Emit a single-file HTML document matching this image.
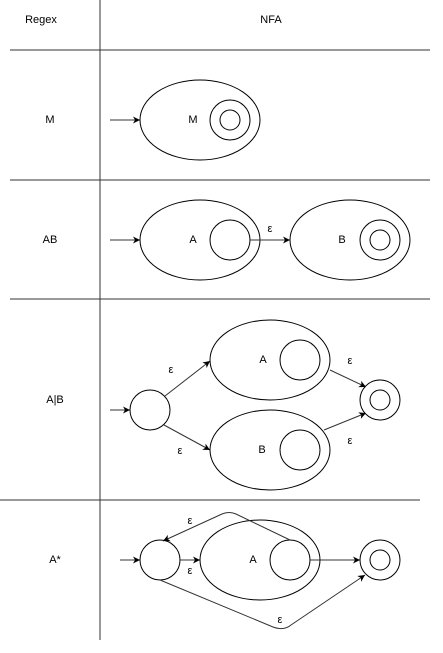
<!DOCTYPE html>
<html><head><meta charset="utf-8"><style>
html,body{margin:0;padding:0;background:#fff}
svg{display:block}
text{font-family:"Liberation Sans",sans-serif;font-size:11px;fill:#000;text-anchor:middle;dominant-baseline:central}
.l{stroke:#333;stroke-width:1;fill:none}
.s{stroke:#000;stroke-width:1;fill:#fff}
</style></head><body>
<svg width="443" height="653" viewBox="0 0 443 653">
<defs><marker id="a" markerWidth="8" markerHeight="8" refX="7" refY="4" orient="auto" markerUnits="userSpaceOnUse"><path d="M0,0.5 L7,4 L0,7.5 L2,4Z" fill="#000"/></marker></defs>
<g>
<line class="l" x1="100" y1="0" x2="100" y2="640"/>
<line class="l" x1="10" y1="50" x2="430" y2="50"/>
<line class="l" x1="10" y1="180" x2="430" y2="180"/>
<line class="l" x1="10" y1="299" x2="430" y2="299"/>
<line class="l" x1="0" y1="500" x2="420" y2="500"/>
</g>
<text x="41" y="20">Regex</text>
<text x="271" y="20">NFA</text>
<text x="50" y="120">M</text>
<text x="50" y="240">AB</text>
<text x="55" y="400">A|B</text>
<text x="55" y="560">A*</text>

<g>
<line class="l" x1="110" y1="120" x2="140" y2="120" marker-end="url(#a)"/>
<ellipse class="s" cx="200" cy="120" rx="60" ry="40"/>
<circle class="s" cx="230" cy="120" r="20"/><circle class="s" cx="230" cy="120" r="10"/>
<text x="193" y="120">M</text>
</g>
<g>
<line class="l" x1="110" y1="240" x2="140" y2="240" marker-end="url(#a)"/>
<ellipse class="s" cx="200" cy="240" rx="60" ry="40"/>
<circle class="s" cx="230" cy="240" r="20"/>
<text x="193" y="240">A</text>
<line class="l" x1="250" y1="240" x2="290" y2="240" marker-end="url(#a)"/>
<text x="270" y="229">ε</text>
<ellipse class="s" cx="350" cy="240" rx="60" ry="40"/>
<circle class="s" cx="380" cy="240" r="20"/><circle class="s" cx="380" cy="240" r="10"/>
<text x="342" y="240">B</text>
</g>
<g>
<line class="l" x1="110" y1="410" x2="130" y2="410" marker-end="url(#a)"/>
<circle class="s" cx="150" cy="410" r="20"/>
<line class="l" x1="165" y1="396" x2="210" y2="361" marker-end="url(#a)"/>
<line class="l" x1="164" y1="425" x2="210" y2="450" marker-end="url(#a)"/>
<text x="171" y="370">ε</text><text x="180" y="451">ε</text>
<ellipse class="s" cx="270" cy="360" rx="60" ry="40"/>
<circle class="s" cx="300" cy="360" r="20"/><text x="263" y="360">A</text>
<ellipse class="s" cx="270" cy="450" rx="60" ry="40"/>
<circle class="s" cx="300" cy="450" r="20"/><text x="262" y="450">B</text>
<line class="l" x1="330" y1="370" x2="366" y2="387" marker-end="url(#a)"/>
<line class="l" x1="324" y1="430" x2="366" y2="413" marker-end="url(#a)"/>
<text x="350" y="361">ε</text><text x="350" y="441">ε</text>
<circle class="s" cx="380" cy="400" r="20"/><circle class="s" cx="380" cy="400" r="10"/>
</g>
<g>
<line class="l" x1="120" y1="560" x2="140" y2="560" marker-end="url(#a)"/>
<circle class="s" cx="160" cy="560" r="20"/>
<line class="l" x1="180" y1="560" x2="200" y2="560" marker-end="url(#a)"/>
<text x="190" y="571">ε</text>
<ellipse class="s" cx="260" cy="560" rx="60" ry="40"/>
<circle class="s" cx="290" cy="560" r="20"/><text x="253" y="560">A</text>
<path class="l" d="M290,540 L236,514 Q229,511 222,514 L163,541" marker-end="url(#a)"/>
<text x="190" y="521">ε</text>
<line class="l" x1="310" y1="560" x2="360" y2="560" marker-end="url(#a)"/>
<path class="l" d="M160,580 L273,627 Q284,631 291,625 L365,575" marker-end="url(#a)"/>
<text x="280" y="620">ε</text>
<circle class="s" cx="380" cy="560" r="20"/><circle class="s" cx="380" cy="560" r="10"/>
</g>
</svg>
</body></html>
